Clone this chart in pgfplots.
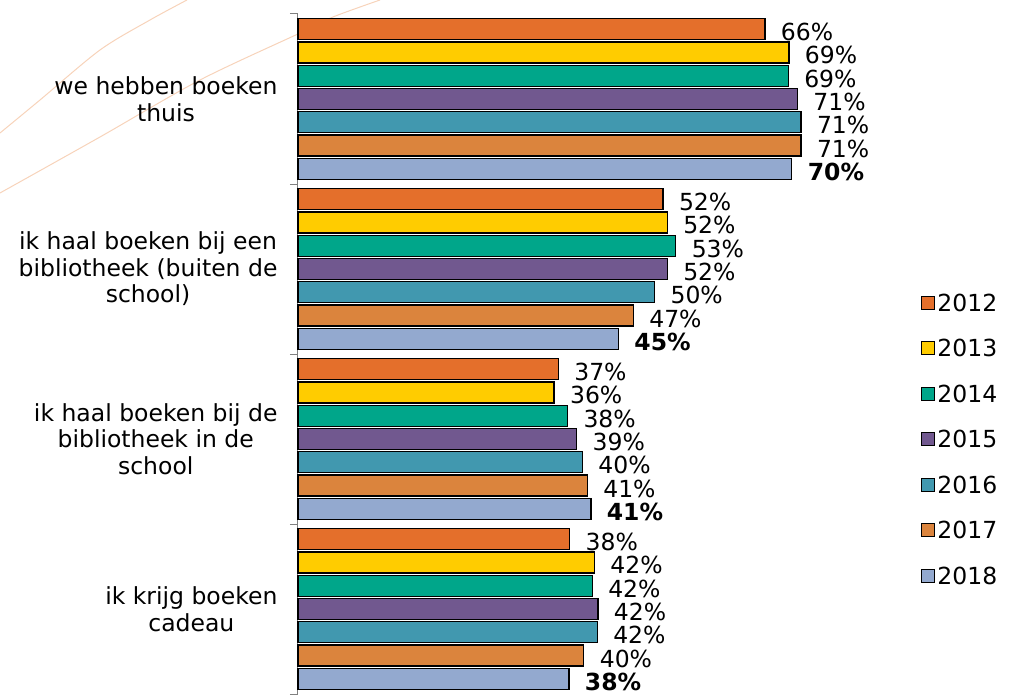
\documentclass[border=0pt]{standalone}
\usepackage{pgfplots}
\pgfplotsset{compat=1.18}
\usepackage{fontspec}
\setmainfont{DejaVu Sans}
\newcommand\chartfont{\fontsize{23.5}{26.5}\selectfont}
\definecolor{c12}{HTML}{E46F2B}
\definecolor{c13}{HTML}{FFCC00}
\definecolor{c14}{HTML}{00A68A}
\definecolor{c15}{HTML}{71588F}
\definecolor{c16}{HTML}{4198AF}
\definecolor{c17}{HTML}{DB843D}
\definecolor{c18}{HTML}{93A9CF}
\definecolor{swoosh}{HTML}{F7D3BA}
\begin{document}
\begin{tikzpicture}
\useasboundingbox (-298pt,-1pt) rectangle (713pt,694pt);
\draw[swoosh, line width=1pt] plot[smooth] coordinates {(-298pt,561pt) (-258pt,594pt) (-198pt,644pt) (-148pt,674pt) (-111pt,694pt)};
\draw[swoosh, line width=1pt] plot[smooth] coordinates {(-298pt,501pt) (-198pt,557pt) (-98pt,614pt) (2pt,661pt) (35pt,677pt) (82pt,694pt)};
\begin{axis}[
  at={(0pt,0pt)}, anchor=south west,
  scale only axis, width=566pt, height=680pt,
  xmin=0, xmax=80, ymin=-0.5, ymax=3.5, y dir=reverse,
  xbar=2.3pt, bar width=21pt,
  hide x axis,
  axis y line*=left,
  y axis line style={-, draw=gray, line width=1pt},
  ytick={0,1,2,3},
  yticklabels={{we hebben boeken\\thuis},{ik haal boeken bij een\\bibliotheek (buiten de\\school)},{ik haal boeken bij de\\bibliotheek in de\\school},{ik krijg boeken\\cadeau}},
  yticklabel style={align=center, font=\chartfont, xshift=-17pt},
  major tick length=0pt,
  minor ytick={-0.5,0.5,1.5,2.5,3.5},
  minor tick length=8pt,
  tick align=outside,
  minor tick style={gray, line width=1pt},
  clip=false,
  /pgf/number format/assume math mode=true,
  point meta=x,
  nodes near coords={\pgfmathprintnumber[fixed,precision=0]{\pgfplotspointmeta}\%},
  every node near coord/.append style={font=\chartfont, anchor=west, xshift=12pt, yshift=-3pt, text=black},
  every axis plot/.append style={draw=black, line width=1.3pt},
  legend style={at={(1.1007,0.5882)}, anchor=north west, draw=none, fill=none, inner sep=0pt,
    row sep=28.5pt, font=\chartfont, cells={anchor=west},
    nodes={inner xsep=2pt, inner ysep=0pt, text height=17pt, text depth=0pt}},
  legend image code/.code={\draw[#1, line width=1.3pt] (0pt,-6.5pt) rectangle (13pt,6.5pt);},
]
\addplot[fill=c12, bar shift=69.9pt] coordinates {(66.0,0) (51.6,1) (36.8,2) (38.4,3)};
\addplot[fill=c13, bar shift=46.6pt] coordinates {(69.4,0) (52.2,1) (36.2,2) (41.9,3)};
\addplot[fill=c14, bar shift=23.3pt] coordinates {(69.3,0) (53.4,1) (38.1,2) (41.6,3)};
\addplot[fill=c15, bar shift=0pt] coordinates {(70.6,0) (52.2,1) (39.4,2) (42.4,3)};
\addplot[fill=c16, bar shift=-23.3pt] coordinates {(71.1,0) (50.4,1) (40.2,2) (42.3,3)};
\addplot[fill=c17, bar shift=-46.6pt] coordinates {(71.1,0) (47.4,1) (40.9,2) (40.4,3)};
\addplot[fill=c18, bar shift=-69.9pt, every node near coord/.append style={font=\chartfont\bfseries}] coordinates {(69.8,0) (45.3,1) (41.4,2) (38.3,3)};
\legend{2012,2013,2014,2015,2016,2017,2018}
\end{axis}
\end{tikzpicture}
\end{document}
